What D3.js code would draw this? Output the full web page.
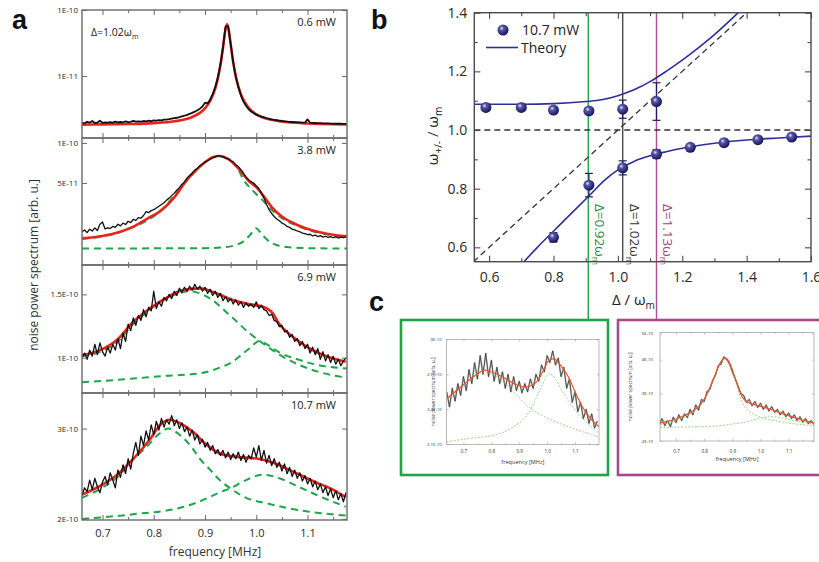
<!DOCTYPE html>
<html>
<head>
<meta charset="utf-8">
<script src="https://cdn.jsdelivr.net/npm/d3@7"></script>
<style>
  body { margin: 0; background: #fff; }
  svg { display: block; }
</style>
</head>
<body>
<script>
// ---- panel a: noise spectra (black = data, red = fit, green = single modes) ----
var freqStart = 0.66, freqStep = 0.005;

// 0.6 mW, units 1E-12
var p1Data = [1.95,1.92,2.02,1.96,2.08,1.94,1.97,2.10,1.95,1.98,1.96,2.00,1.97,2.03,1.98,2.01,1.99,2.06,2.00,2.02,
  2.09,2.03,2.05,2.04,2.08,2.06,2.10,2.07,2.12,2.10,2.14,2.13,2.18,2.19,2.22,2.26,2.30,2.33,2.38,2.44,
  2.50,2.58,2.67,2.76,2.88,3.02,3.20,3.45,3.95,3.85,4.35,5.3,6.8,9.5,14.8,27,56,57,31,16.2,
  9.8,6.8,5.1,4.1,3.55,3.15,2.9,2.75,2.6,2.5,2.42,2.36,2.3,2.25,2.2,2.17,2.14,2.11,2.08,2.06,
  2.04,2.02,2.01,2.0,1.99,1.98,1.97,1.97,2.2,1.96,1.95,1.94,1.93,1.93,1.92,1.91,1.91,1.90,1.90,1.89,
  1.89,1.89,1.88,1.88];
var p1Fit = [[0.66,1.83],[0.70,1.85],[0.75,1.87],[0.80,1.93],[0.84,2.06],[0.87,2.31],[0.89,2.76],[0.90,3.24],[0.91,4.2],
  [0.92,6.5],[0.925,9.2],[0.93,14.5],[0.935,26.6],[0.94,51.2],[0.943,60.8],[0.946,51.2],[0.95,30.4],[0.955,16.1],
  [0.96,9.9],[0.965,6.95],[0.97,5.3],[0.98,3.73],[0.99,3.0],[1.00,2.63],[1.02,2.26],[1.05,2.04],[1.10,1.91],[1.15,1.86],[1.177,1.85]];

// 3.8 mW, units 1E-11
var p2Data = [2.15,2.22,2.12,2.25,2.18,2.30,2.20,2.45,2.55,2.26,2.30,2.28,2.36,2.32,2.45,2.38,2.50,2.44,2.58,2.52,
  2.66,2.62,2.75,2.72,2.85,3.05,3.0,3.1,3.15,3.25,3.35,3.45,3.55,3.72,3.85,4.02,4.2,4.42,4.62,4.9,
  5.1,5.45,5.7,5.95,6.25,6.45,6.75,6.95,7.2,7.35,7.55,7.75,7.85,8.05,7.95,7.9,7.7,7.6,7.35,7.2,
  6.85,6.65,6.3,5.95,5.55,5.3,5.1,5.0,4.75,4.55,4.2,3.85,3.45,3.15,2.95,2.8,2.68,2.6,2.5,2.45,
  2.36,2.32,2.25,2.22,2.18,2.15,2.1,2.08,2.05,2.06,2.0,2.03,1.98,2.01,1.96,1.99,1.95,1.98,1.94,1.97,
  1.93,1.96,1.94,1.97];
var p2Fit = [[0.66,1.92],[0.70,2.00],[0.73,2.12],[0.76,2.35],[0.79,2.74],[0.81,3.02],[0.84,3.9],[0.865,5.3],[0.89,6.64],
  [0.915,7.8],[0.928,7.98],[0.945,7.6],[0.965,6.45],[0.985,5.2],[1.0,4.65],[1.015,3.95],[1.03,3.3],[1.05,2.8],
  [1.08,2.42],[1.11,2.2],[1.14,2.07],[1.177,1.99]];
var p2Mode1 = [[0.66,1.9],[0.70,1.98],[0.76,2.33],[0.81,3.0],[0.865,5.25],[0.915,7.75],[0.928,7.93],[0.945,7.55],
  [0.965,6.3],[0.975,5.3],[0.993,4.4],[1.0126,3.7],[1.03,3.15],[1.05,2.72],[1.08,2.38],[1.11,2.17],[1.14,2.05],[1.177,1.97]];
var p2Mode2 = [[0.66,1.61],[0.90,1.62],[0.94,1.65],[0.96,1.71],[0.975,1.82],[0.985,1.98],[0.993,2.15],[1.0,2.29],
  [1.007,2.15],[1.015,1.98],[1.025,1.82],[1.04,1.71],[1.06,1.65],[1.10,1.62],[1.177,1.61]];

// 6.9 mW, units 1E-10
var p3Data = [1.00,1.03,0.99,1.05,1.01,1.09,1.02,1.10,1.04,1.01,1.07,1.03,1.09,1.05,1.13,1.06,1.17,1.11,1.24,1.19,
  1.29,1.23,1.31,1.27,1.36,1.30,1.38,1.35,1.53,1.37,1.43,1.39,1.47,1.44,1.50,1.46,1.53,1.49,1.56,1.52,
  1.57,1.53,1.58,1.54,1.60,1.55,1.58,1.53,1.57,1.51,1.55,1.49,1.53,1.47,1.51,1.44,1.48,1.43,1.46,1.41,
  1.45,1.40,1.43,1.38,1.42,1.39,1.41,1.38,1.43,1.37,1.40,1.36,1.35,1.31,1.32,1.27,1.26,1.22,1.23,1.18,
  1.19,1.14,1.16,1.11,1.13,1.08,1.11,1.06,1.09,1.03,1.07,1.02,1.06,0.99,1.04,0.98,1.02,0.97,1.01,0.96,
  0.99,0.95,0.98,1.0];
var p3Fit = [[0.66,1.017],[0.6955,1.05],[0.728,1.12],[0.76,1.259],[0.7926,1.371],[0.825,1.468],[0.857,1.542],[0.89,1.559],
  [0.922,1.51],[0.954,1.446],[0.987,1.407],[1.0126,1.386],[1.032,1.33],[1.045,1.24],[1.0515,1.21],[1.084,1.108],
  [1.116,1.039],[1.1485,0.996],[1.1745,0.975]];
var p3Mode1 = [[0.66,1.01],[0.70,1.045],[0.73,1.11],[0.76,1.24],[0.79,1.35],[0.82,1.45],[0.85,1.51],[0.87,1.53],[0.89,1.51],
  [0.9095,1.462],[0.948,1.314],[0.987,1.169],[1.0126,1.097],[1.045,1.02],[1.08,0.96],[1.12,0.915],[1.177,0.88]];
var p3Mode2 = [[0.66,0.855],[0.70,0.862],[0.76,0.875],[0.82,0.89],[0.89,0.905],[0.93,0.94],[0.954,0.975],[0.975,1.03],
  [0.987,1.062],[1.006,1.113],[1.025,1.08],[1.045,1.035],[1.08,0.99],[1.12,0.955],[1.177,0.933]];

// 10.7 mW, units 1E-10
var p4Data = [2.22,2.30,2.26,2.38,2.28,2.40,2.31,2.25,2.36,2.42,2.33,2.46,2.38,2.30,2.49,2.41,2.55,2.45,2.62,2.50,
  2.68,2.82,2.66,2.90,2.78,2.97,2.85,3.05,2.92,3.10,2.98,3.14,3.02,3.12,3.06,3.18,3.04,3.12,3.0,3.08,
  2.96,3.02,2.9,2.98,2.85,2.92,2.80,2.86,2.76,2.82,2.72,2.78,2.68,2.73,2.66,2.72,2.63,2.70,2.61,2.68,
  2.62,2.70,2.60,2.67,2.58,2.66,2.62,2.75,2.64,2.78,2.60,2.72,2.57,2.66,2.54,2.62,2.52,2.58,2.48,2.56,
  2.45,2.52,2.42,2.49,2.40,2.46,2.37,2.43,2.34,2.40,2.31,2.37,2.28,2.34,2.25,2.31,2.22,2.29,2.20,2.27,
  2.18,2.24,2.16,2.25];
var p4Fit = [[0.66,2.23],[0.6955,2.32],[0.728,2.436],[0.76,2.618],[0.7926,2.859],[0.812,3.048],[0.8314,3.122],[0.851,3.073],
  [0.877,2.953],[0.9027,2.791],[0.9285,2.683],[0.9674,2.639],[1.006,2.618],[1.032,2.576],[1.071,2.475],[1.116,2.358],
  [1.1485,2.284],[1.1746,2.205]];
var p4Mode1 = [[0.66,2.198],[0.70,2.303],[0.73,2.417],[0.758,2.601],[0.79,2.791],[0.81,2.929],[0.829,3.0],[0.85,2.92],
  [0.874,2.76],[0.89,2.62],[0.9091,2.499],[0.9285,2.381],[0.9513,2.288],[0.98,2.198],[1.0192,2.146],[1.084,2.079],[1.1746,2.03]];
var p4Mode2 = [[0.66,2.0],[0.76,2.042],[0.857,2.109],[0.8897,2.163],[0.9285,2.252],[0.9513,2.3],[0.98,2.381],[1.0126,2.439],
  [1.045,2.401],[1.084,2.307],[1.1225,2.216],[1.1746,2.112]];

var powerLabels = ["0.6 mW", "3.8 mW", "6.9 mW", "10.7 mW"];
var aFreqTicks = [0.7, 0.8, 0.9, 1.0, 1.1];
var aFreqMinor = [0.75, 0.85, 0.95, 1.05, 1.15];
var aYTicks = [[100, 10], [10, 5], [1.5, 1], [3, 2]];
var aYLabels = [["1E-10", "1E-11"], ["1E-10", "5E-11"], ["1.5E-10", "1E-10"], ["3E-10", "2E-10"]];

// ---- panel b: normal mode frequencies ----
var detuning = [0.59, 0.70, 0.80, 0.91, 1.015, 1.12];
var upperBranch = [1.077, 1.077, 1.068, 1.065, 1.071, 1.097];
var upperErr = [0.006, 0.006, 0.009, 0.011, 0.031, 0.064];
var detuningLow = [0.80, 0.91, 1.015, 1.12, 1.225, 1.33, 1.435, 1.54];
var lowerBranch = [0.634, 0.812, 0.871, 0.918, 0.941, 0.957, 0.967, 0.976];
var lowerErr = [0.016, 0.04, 0.024, 0.015, 0.006, 0.006, 0.005, 0.005];
var theoryUpper = [[0.554,1.088],[0.7,1.088],[0.8,1.09],[0.9,1.097],[0.95,1.103],[1.0,1.117],[1.05,1.137],[1.1,1.165],
  [1.15,1.2],[1.2,1.238],[1.25,1.28],[1.3,1.325],[1.374,1.4]];
var theoryLower = [[0.708,0.551],[0.75,0.6],[0.8,0.655],[0.85,0.71],[0.91,0.775],[0.96,0.83],[1.0,0.864],[1.05,0.893],
  [1.1,0.912],[1.15,0.926],[1.2,0.938],[1.3,0.955],[1.4,0.966],[1.5,0.973],[1.6,0.979]];
var uncoupledCavity = [[0.551,0.551],[1.4,1.4]];
var uncoupledMech = [[0.554,1.0],[1.6,1.0]];
var markedDetuning = [0.908, 1.015, 1.12];
var markedLabels = ["0.92", "1.02", "1.13"];
var bXTicks = [0.6, 0.8, 1.0, 1.2, 1.4, 1.6];
var bXMinor = [0.7, 0.9, 1.1, 1.3, 1.5];
var bYTicks = [0.6, 0.8, 1.0, 1.2, 1.4];
var bYMinor = [0.7, 0.9, 1.1, 1.3];

// ---- panel c: spectra at 0.92 and 1.13 ----
var insetStep = 0.01;
var c1Start = 0.64;
var c1Data = [2.55,2.42,2.58,2.47,2.62,2.52,2.68,2.56,2.74,2.62,2.80,2.66,2.86,2.70,2.88,2.68,2.82,2.64,2.76,2.62,
  2.72,2.58,2.70,2.55,2.68,2.56,2.64,2.54,2.62,2.55,2.66,2.58,2.70,2.64,2.78,2.72,2.86,2.80,2.90,2.78,
  2.84,2.68,2.76,2.58,2.66,2.46,2.55,2.38,2.46,2.32,2.40,2.28,2.36,2.24,2.30];
var c1Fit = [[0.64,2.49],[0.67,2.55],[0.70,2.61],[0.73,2.67],[0.76,2.72],[0.775,2.735],[0.80,2.72],[0.83,2.69],[0.86,2.65],
  [0.89,2.61],[0.92,2.59],[0.95,2.61],[0.97,2.66],[0.99,2.75],[1.007,2.82],[1.025,2.835],[1.04,2.8],[1.06,2.74],
  [1.08,2.66],[1.10,2.55],[1.12,2.45],[1.14,2.37],[1.16,2.31],[1.186,2.25]];
var c1Mode1 = [[0.64,2.48],[0.70,2.6],[0.76,2.71],[0.775,2.72],[0.82,2.68],[0.873,2.565],[0.933,2.422],[0.992,2.336],
  [1.076,2.251],[1.186,2.165]];
var c1Mode2 = [[0.64,2.122],[0.72,2.15],[0.813,2.18],[0.88,2.25],[0.933,2.366],[0.98,2.594],[1.007,2.708],[1.03,2.66],
  [1.052,2.565],[1.1,2.394],[1.186,2.194]];
var c1YTicks = [3.0, 2.7, 2.4, 2.1];
var c1YLabels = ["3E-10", "2.7E-10", "2.4E-10", "2.1E-10"];

var c2Start = 0.64;
var c2Data = [2.30,2.42,2.28,2.38,2.26,2.45,2.34,2.50,2.38,2.52,2.44,2.62,2.50,2.72,2.60,2.85,2.80,3.05,3.10,3.35,
  3.50,3.80,3.85,4.10,4.00,3.85,3.60,3.40,3.20,3.00,2.95,2.78,2.85,2.70,2.80,2.66,2.76,2.62,2.72,2.58,
  2.68,2.55,2.62,2.50,2.58,2.46,2.54,2.42,2.50,2.38,2.46,2.35,2.42,2.32,2.38,2.30];
var c2Fit = [[0.643,2.33],[0.68,2.38],[0.72,2.46],[0.75,2.55],[0.78,2.68],[0.80,2.85],[0.827,3.27],[0.845,3.65],[0.856,3.88],
  [0.874,4.05],[0.89,3.9],[0.898,3.72],[0.915,3.3],[0.934,2.92],[0.955,2.78],[0.981,2.72],[1.01,2.67],[1.04,2.61],
  [1.075,2.53],[1.111,2.46],[1.15,2.39],[1.19,2.33]];
var c2Mode1 = [[0.643,2.3],[0.72,2.43],[0.78,2.66],[0.827,3.25],[0.856,3.86],[0.874,4.02],[0.898,3.65],[0.915,3.2],
  [0.934,2.8],[0.956,2.6],[0.98,2.5],[1.016,2.42],[1.06,2.37],[1.1,2.33],[1.19,2.28]];
var c2Mode2 = [[0.643,2.245],[0.75,2.255],[0.839,2.27],[0.9,2.31],[0.956,2.36],[1.004,2.44],[1.04,2.46],[1.075,2.44],
  [1.111,2.39],[1.19,2.31]];
var c2YTicks = [5, 4, 3, 2];
var c2YLabels = ["5E-10", "4E-10", "3E-10", "2E-10"];
var cXTicks = [0.7, 0.8, 0.9, 1.0, 1.1];
var cXMinor = [0.75, 0.85, 0.95, 1.05, 1.15];

// ------------------------------------------------------------------
var FONT = "'Open Sans', 'DejaVu Sans', sans-serif";
var RED = "#e8231c", GREEN = "#1fa64a", BLUE = "#2f2f9c", MAGENTA = "#b24a98";

var svg = d3.select("body").append("svg").attr("width", 819).attr("height", 562);
var defs = svg.append("defs");
var grad = defs.append("radialGradient").attr("id", "ball").attr("cx", "38%").attr("cy", "35%").attr("r", "65%");
grad.append("stop").attr("offset", "0%").attr("stop-color", "#e8e8f4");
grad.append("stop").attr("offset", "30%").attr("stop-color", "#5656a8");
grad.append("stop").attr("offset", "100%").attr("stop-color", "#15155a");

var clipId = 0;
function clipTo(x, y) {
    var id = "clip" + (clipId++);
    defs.append("clipPath").attr("id", id).append("rect")
        .attr("x", x.range()[0]).attr("y", y.range()[1])
        .attr("width", x.range()[1] - x.range()[0]).attr("height", y.range()[0] - y.range()[1]);
    return "url(#" + id + ")";
}

// inward ticks on all four sides + frame
function axes(g, x, y, s) {
    var l = x.range()[0], r = x.range()[1], b = y.range()[0], t = y.range()[1];
    function put(axis, tx, ty, font) {
        var a = g.append("g").attr("transform", "translate(" + tx + "," + ty + ")").call(axis);
        a.select(".domain").remove();
        a.selectAll("line").attr("stroke", s.color).attr("stroke-width", s.tw);
        if (!font) a.selectAll("text").remove();
        else a.selectAll("text").attr("font-size", font).attr("font-family", FONT).attr("fill", "#2a2a2a");
        return a;
    }
    put(d3.axisBottom(x).tickValues(s.xMajor).tickSize(-s.big).tickPadding(s.xPad || 3)
        .tickFormat(d3.format(".1f")), 0, b, s.xFont);
    put(d3.axisBottom(x).tickValues(s.xMinor).tickSize(-s.small), 0, b, 0);
    put(d3.axisTop(x).tickValues(s.xMajor).tickSize(-s.big), 0, t, 0);
    put(d3.axisTop(x).tickValues(s.xMinor).tickSize(-s.small), 0, t, 0);
    put(d3.axisLeft(y).tickValues(s.yMajor).tickSize(-s.big).tickPadding(s.yPad || 3)
        .tickFormat(function (d, i) { return s.yLabels ? s.yLabels[i] : d3.format(".1f")(d); }), l, 0, s.yFont);
    if (s.yMinor) put(d3.axisLeft(y).tickValues(s.yMinor).tickSize(-s.small), l, 0, 0);
    put(d3.axisRight(y).tickValues(s.yMajor).tickSize(-s.big), r, 0, 0);
    if (s.yMinor) put(d3.axisRight(y).tickValues(s.yMinor).tickSize(-s.small), r, 0, 0);
    g.append("rect").attr("x", l).attr("y", t).attr("width", r - l).attr("height", b - t)
        .attr("fill", "none").attr("stroke", s.color).attr("stroke-width", s.fw);
}

function trace(values, start, step) {
    return values.map(function (v, i) { return [start + i * step, v]; });
}

function drawCurve(g, x, y, pts, style) {
    var line = d3.line().x(function (d) { return x(d[0]); }).y(function (d) { return y(d[1]); })
        .curve(style.smooth ? d3.curveMonotoneX : d3.curveLinear);
    g.append("path").datum(pts).attr("d", line).attr("fill", "none")
        .attr("stroke", style.color).attr("stroke-width", style.width)
        .attr("stroke-dasharray", style.dash || null)
        .attr("stroke-linejoin", "round");
}

// ---------------- panel a ----------------
var xA = d3.scaleLinear().domain([0.66, 1.177]).range([82, 347]);
var aTops = [10, 138, 265, 393], aBottoms = [138, 265, 393, 520];
var aDomains = [[1.15, 100], [1.21, 10.9], [0.798, 1.81], [1.99, 3.52]];
var aData = [p1Data, p2Data, p3Data, p4Data];
var aFits = [p1Fit, p2Fit, p3Fit, p4Fit];
var aModes = [[], [p2Mode1, p2Mode2], [p3Mode1, p3Mode2], [p4Mode1, p4Mode2]];

aData.forEach(function (vals, k) {
    var yA = d3.scaleLog().domain(aDomains[k]).range([aBottoms[k], aTops[k]]);
    var g = svg.append("g");
    var plot = g.append("g").attr("clip-path", clipTo(xA, yA));
    aModes[k].forEach(function (m) {
        drawCurve(plot, xA, yA, m, { smooth: true, color: GREEN, width: 2, dash: "7,5" });
    });
    drawCurve(plot, xA, yA, aFits[k], { smooth: true, color: RED, width: 2.6 });
    drawCurve(plot, xA, yA, trace(vals, freqStart, freqStep), { color: "#111", width: k === 0 ? 1.8 : 1.3 });
    axes(g, xA, yA, {
        xMajor: aFreqTicks, xMinor: aFreqMinor, yMajor: aYTicks[k], yLabels: aYLabels[k],
        big: 5, small: 3, color: "#6a6a6a", tw: 1, fw: 1.4,
        xFont: k === 3 ? 11 : 0, xPad: 9, yFont: 8, yPad: 4
    });
    g.append("text").attr("x", 336).attr("y", aTops[k] + 16).attr("text-anchor", "end")
        .attr("font-family", FONT).attr("font-size", 11).attr("fill", "#222").text(powerLabels[k]);
});

var dA = svg.append("text").attr("x", 91).attr("y", 36).attr("font-family", FONT).attr("font-size", 10.5).attr("fill", "#222");
dA.append("tspan").text("\u0394=1.02\u03c9");
dA.append("tspan").attr("font-size", 7).attr("dy", 3).text("m");

svg.append("text").attr("transform", "translate(38,265) rotate(-90)").attr("text-anchor", "middle")
    .attr("font-family", FONT).attr("font-size", 12).attr("fill", "#333").text("noise power spectrum [arb. u.]");
svg.append("text").attr("x", 215).attr("y", 556).attr("text-anchor", "middle")
    .attr("font-family", FONT).attr("font-size", 12).attr("fill", "#333").text("frequency [MHz]");

// ---------------- panel b ----------------
var xB = d3.scaleLinear().domain([0.554, 1.6]).range([474.3, 811]);
var yB = d3.scaleLinear().domain([0.551, 1.4]).range([261.7, 12.7]);
var gb = svg.append("g");

// vertical guide lines (green and magenta run down into panel c)
var guideColors = [GREEN, "#4a4a4a", MAGENTA];
var guideBottoms = [320, yB(0.551), 320];
markedDetuning.forEach(function (d, i) {
    gb.append("line").attr("x1", xB(d)).attr("x2", xB(d)).attr("y1", yB(1.4)).attr("y2", guideBottoms[i])
        .attr("stroke", guideColors[i]).attr("stroke-width", 1.4);
});

var plotB = gb.append("g").attr("clip-path", clipTo(xB, yB));
drawCurve(plotB, xB, yB, uncoupledMech, { color: "#333", width: 1.3, dash: "6,4" });
drawCurve(plotB, xB, yB, uncoupledCavity, { color: "#333", width: 1.3, dash: "6,4" });
drawCurve(plotB, xB, yB, theoryUpper, { smooth: true, color: BLUE, width: 1.6 });
drawCurve(plotB, xB, yB, theoryLower, { smooth: true, color: BLUE, width: 1.6 });

function branch(xs, ys, errs) {
    var pts = xs.map(function (d, i) { return { x: d, y: ys[i], e: errs[i] }; });
    var eb = gb.append("g").attr("stroke", "#1c1c60").attr("stroke-width", 1.2);
    pts.forEach(function (p) {
        var cx = xB(p.x);
        eb.append("line").attr("x1", cx).attr("x2", cx).attr("y1", yB(p.y - p.e)).attr("y2", yB(p.y + p.e));
        eb.append("line").attr("x1", cx - 4).attr("x2", cx + 4).attr("y1", yB(p.y - p.e)).attr("y2", yB(p.y - p.e));
        eb.append("line").attr("x1", cx - 4).attr("x2", cx + 4).attr("y1", yB(p.y + p.e)).attr("y2", yB(p.y + p.e));
    });
    gb.append("g").selectAll("circle").data(pts).join("circle")
        .attr("cx", function (p) { return xB(p.x); }).attr("cy", function (p) { return yB(p.y); })
        .attr("r", 5.5).attr("fill", "url(#ball)");
}
branch(detuning, upperBranch, upperErr);
branch(detuningLow, lowerBranch, lowerErr);

axes(gb, xB, yB, {
    xMajor: bXTicks, xMinor: bXMinor, yMajor: bYTicks, yMinor: bYMinor,
    big: 6, small: 3.5, color: "#4a4a4a", tw: 1.1, fw: 1.4,
    xFont: 14, xPad: 10, yFont: 14, yPad: 7
});

// legend
gb.append("circle").attr("cx", 503).attr("cy", 30).attr("r", 5.5).attr("fill", "url(#ball)");
gb.append("text").attr("x", 522).attr("y", 35).attr("font-family", FONT).attr("font-size", 14).attr("fill", "#222").text("10.7 mW");
gb.append("line").attr("x1", 486).attr("x2", 518).attr("y1", 47.5).attr("y2", 47.5).attr("stroke", BLUE).attr("stroke-width", 1.6);
gb.append("text").attr("x", 521).attr("y", 53).attr("font-family", FONT).attr("font-size", 14).attr("fill", "#222").text("Theory");

// rotated detuning labels
var labelColors = ["#1f8a44", "#333", "#a83c7e"];
markedDetuning.forEach(function (d, i) {
    var t = gb.append("text").attr("transform", "translate(" + (xB(d) + 7) + ",204) rotate(90)")
        .attr("font-family", FONT).attr("font-size", 13.5).attr("fill", labelColors[i]);
    t.append("tspan").text("\u0394=" + markedLabels[i] + "\u03c9");
    t.append("tspan").attr("font-size", 9).attr("dy", 3.5).text("m");
});

var yl = svg.append("text").attr("transform", "translate(438,136) rotate(-90)").attr("text-anchor", "middle")
    .attr("font-family", FONT).attr("font-size", 15).attr("fill", "#222");
yl.append("tspan").text("\u03c9");
yl.append("tspan").attr("font-size", 10).attr("dy", 4).text("+/-");
yl.append("tspan").attr("dy", -4).text(" / \u03c9");
yl.append("tspan").attr("font-size", 10).attr("dy", 4).text("m");

var xl = svg.append("text").attr("x", 612).attr("y", 305).attr("font-family", FONT).attr("font-size", 15).attr("fill", "#222");
xl.append("tspan").text("\u0394 / \u03c9");
xl.append("tspan").attr("font-size", 10).attr("dy", 4).text("m");

// ---------------- panel c ----------------
svg.append("rect").attr("x", 401).attr("y", 320).attr("width", 207).attr("height", 155)
    .attr("fill", "none").attr("stroke", "#21a34a").attr("stroke-width", 2.6);
svg.append("rect").attr("x", 618).attr("y", 320).attr("width", 210).attr("height", 155)
    .attr("fill", "none").attr("stroke", "#a54b8d").attr("stroke-width", 2.6);

function inset(x, y, data, start, fit, modes, yTicks, yLabels, yPad, xPad, ylX) {
    var g = svg.append("g");
    var plot = g.append("g").attr("clip-path", clipTo(x, y));
    var pts = trace(data, start, insetStep);
    drawCurve(plot, x, y, pts, { color: "#b0b0b0", width: 1.6 });
    drawCurve(plot, x, y, pts, { color: "#1a1a1a", width: 0.6 });
    modes.forEach(function (m) {
        drawCurve(plot, x, y, m, { smooth: true, color: "#86c96e", width: 0.8, dash: "2,1.5" });
    });
    drawCurve(plot, x, y, fit, { smooth: true, color: "#f0522a", width: 1.2 });
    axes(g, x, y, {
        xMajor: cXTicks, xMinor: cXMinor, yMajor: yTicks, yLabels: yLabels,
        big: 2.2, small: 1.3, color: "#8a8a8a", tw: 0.5, fw: 0.6,
        xFont: 4.6, xPad: xPad, yFont: 4.3, yPad: yPad
    });
    var cx = (x.range()[0] + x.range()[1]) / 2;
    g.append("text").attr("x", cx).attr("y", y.range()[0] + 20).attr("text-anchor", "middle")
        .attr("font-family", FONT).attr("font-size", 5.6).attr("fill", "#333").text("frequency [MHz]");
    g.append("text").attr("transform", "translate(" + ylX + "," + ((y.range()[0] + y.range()[1]) / 2) + ") rotate(-90)")
        .attr("text-anchor", "middle").attr("font-family", FONT).attr("font-size", 4.8).attr("fill", "#333")
        .text("noise power spectrum [arb. u.]");
}

var xC1 = d3.scaleLinear().domain([0.64, 1.186]).range([446.7, 599]);
var yC1 = d3.scaleLinear().domain([2.1, 3.0]).range([444.3, 339.3]);
inset(xC1, yC1, c1Data, c1Start, c1Fit, [c1Mode1, c1Mode2], c1YTicks, c1YLabels, 5, 5, 435);

var xC2 = d3.scaleLinear().domain([0.643, 1.19]).range([660, 814]);
var yC2 = d3.scaleLog().domain([2, 5.03]).range([441, 332.7]);
inset(xC2, yC2, c2Data, c2Start, c2Fit, [c2Mode1, c2Mode2], c2YTicks, c2YLabels, 7, 9, 632);

// panel letters
[["a", 12, 29], ["b", 371, 29], ["c", 369, 311]].forEach(function (p) {
    svg.append("text").attr("x", p[1]).attr("y", p[2]).attr("font-family", "'Liberation Sans', Arial, sans-serif")
        .attr("font-weight", "bold").attr("font-size", 27).attr("fill", "#111").text(p[0]);
});
</script>
</body>
</html>
